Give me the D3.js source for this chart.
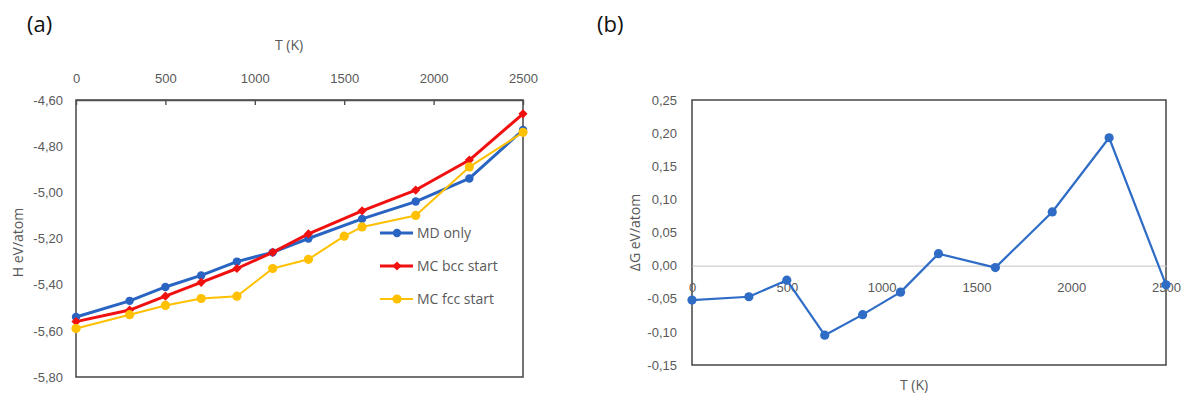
<!DOCTYPE html>
<html>
<head>
<meta charset="utf-8">
<script src="https://cdn.jsdelivr.net/npm/d3@7"></script>
<style>
  html, body { margin: 0; padding: 0; background: #fff; }
  svg { display: block; font-family: "Open Sans", "Liberation Sans", sans-serif; }
</style>
</head>
<body>
<svg id="fig" width="1182" height="395"></svg>
<script>
// Temperatures (K)
const temps = [0, 300, 500, 700, 900, 1100, 1300, 1600, 1900, 2200, 2500];
const tempsFcc = [0, 300, 500, 700, 900, 1100, 1300, 1500, 1600, 1900, 2200, 2500];

// Enthalpy H (eV/atom)
const hMdOnly = [-5.54, -5.47, -5.41, -5.36, -5.30, -5.26, -5.20, -5.115, -5.04, -4.94, -4.73];
const hMcBcc  = [-5.56, -5.51, -5.45, -5.39, -5.33, -5.26, -5.18, -5.08, -4.99, -4.86, -4.66];
const hMcFcc  = [-5.59, -5.53, -5.49, -5.46, -5.45, -5.33, -5.29, -5.19, -5.15, -5.10, -4.89, -4.74];

// Free energy difference ΔG (eV/atom)
const deltaG = [-0.052, -0.047, -0.022, -0.105, -0.074, -0.040, 0.018, -0.003, 0.081, 0.193, -0.029];

const xTicks = [0, 500, 1000, 1500, 2000, 2500];
const hTicks = [-4.6, -4.8, -5.0, -5.2, -5.4, -5.6, -5.8];
const gTicks = [0.25, 0.20, 0.15, 0.10, 0.05, 0.00, -0.05, -0.10, -0.15];

const seriesA = [
  { name: "MD only",      x: temps,    y: hMdOnly, color: "#2a64c2", width: 3, marker: "circle",  r: 4.2 },
  { name: "MC bcc start", x: temps,    y: hMcBcc,  color: "#f01010", width: 3, marker: "diamond", r: 4.6 },
  { name: "MC fcc start", x: tempsFcc, y: hMcFcc,  color: "#ffc000", width: 2, marker: "circle",  r: 4.6 }
];

const comma = d => d.toFixed(2).replace(".", ",");
const grey = "#595959";
const frame = "#505050";

const svg = d3.select("#fig");

// ---------- Panel (a) ----------
const xa = d3.scaleLinear().domain([0, 2500]).range([76, 523]);
const ya = d3.scaleLinear().domain([-5.8, -4.6]).range([377, 100]);

const ga = svg.append("g");

ga.append("text").attr("x", 27).attr("y", 32).attr("font-size", 22).attr("fill", "#111").text("(a)");

ga.append("rect")
  .attr("x", xa(0)).attr("y", ya(-4.6))
  .attr("width", xa(2500) - xa(0)).attr("height", ya(-5.8) - ya(-4.6))
  .attr("fill", "none").attr("stroke", frame).attr("stroke-width", 1.6);

const axTop = ga.append("g").attr("transform", `translate(0,${ya(-4.6)})`)
  .call(d3.axisTop(xa).tickValues(xTicks).tickSizeInner(-5).tickSizeOuter(0).tickPadding(17).tickFormat(d3.format("d")));
axTop.select(".domain").attr("stroke", frame).attr("stroke-width", 1.6);
axTop.selectAll(".tick line").attr("stroke", frame).attr("stroke-width", 1.4);
axTop.selectAll("text").attr("fill", grey).attr("font-size", 13);

const axLeftA = ga.append("g").attr("transform", `translate(${xa(0)},0)`)
  .call(d3.axisLeft(ya).tickValues(hTicks).tickSize(0).tickPadding(13).tickFormat(comma));
axLeftA.select(".domain").remove();
axLeftA.selectAll("text").attr("fill", grey).attr("font-size", 13);

ga.append("text").attr("x", 289).attr("y", 50).attr("text-anchor", "middle")
  .attr("font-size", 14).attr("fill", grey).text("T (K)");
ga.append("text").attr("transform", `translate(23,${(100 + 377) / 2 + 4}) rotate(-90)`)
  .attr("text-anchor", "middle").attr("font-size", 14).attr("fill", grey).text("H eV/atom");

// Diamond marker: a square turned by 45 degrees
const diamondPath = r => `M0,${-r}L${r},0L0,${r}L${-r},0Z`;

function drawMarker(sel, s, cx, cy) {
  if (s.marker === "circle") {
    sel.append("circle").attr("cx", cx).attr("cy", cy).attr("r", s.r).attr("fill", s.color);
  } else {
    sel.append("path").attr("d", diamondPath(s.r))
      .attr("transform", `translate(${cx},${cy})`).attr("fill", s.color);
  }
}

const lineA = d3.line();
seriesA.forEach(s => {
  const pts = s.x.map((t, i) => [xa(t), ya(s.y[i])]);
  const g = ga.append("g");
  g.append("path").attr("d", lineA(pts)).attr("fill", "none")
    .attr("stroke", s.color).attr("stroke-width", s.width).attr("stroke-linejoin", "round");
  pts.forEach(p => drawMarker(g, s, p[0], p[1]));
});

// legend
const leg = ga.append("g");
seriesA.forEach((s, i) => {
  const ly = 233 + i * 33;
  const row = leg.append("g");
  row.append("line").attr("x1", 380).attr("x2", 413).attr("y1", ly).attr("y2", ly)
    .attr("stroke", s.color).attr("stroke-width", s.width);
  drawMarker(row, s, 397, ly);
  row.append("text").attr("x", 417).attr("y", ly + 5).attr("font-size", 14)
    .attr("fill", grey).text(s.name);
});

// ---------- Panel (b) ----------
const xb = d3.scaleLinear().domain([0, 2500]).range([692, 1166]);
const yb = d3.scaleLinear().domain([-0.15, 0.25]).range([365, 100]);

const gb = svg.append("g");

gb.append("text").attr("x", 597).attr("y", 32).attr("font-size", 22).attr("fill", "#111").text("(b)");

gb.append("rect")
  .attr("x", xb(0)).attr("y", yb(0.25))
  .attr("width", xb(2500) - xb(0)).attr("height", yb(-0.15) - yb(0.25))
  .attr("fill", "none").attr("stroke", frame).attr("stroke-width", 1.6);

const axLeftB = gb.append("g").attr("transform", `translate(${xb(0)},0)`)
  .call(d3.axisLeft(yb).tickValues(gTicks).tickSize(0).tickPadding(15).tickFormat(comma));
axLeftB.select(".domain").remove();
axLeftB.selectAll("text").attr("fill", grey).attr("font-size", 13);

const axZero = gb.append("g").attr("transform", `translate(0,${yb(0)})`)
  .call(d3.axisBottom(xb).tickValues(xTicks).tickSize(0).tickPadding(17).tickFormat(d3.format("d")));
axZero.select(".domain").attr("stroke", "#cfcfcf").attr("stroke-width", 1.2);
axZero.selectAll("text").attr("fill", grey).attr("font-size", 13);

gb.append("text").attr("x", 914).attr("y", 390).attr("text-anchor", "middle")
  .attr("font-size", 14).attr("fill", grey).text("T (K)");
gb.append("text").attr("transform", `translate(640,${(100 + 365) / 2}) rotate(-90)`)
  .attr("text-anchor", "middle").attr("font-size", 14).attr("fill", grey).text("ΔG eV/atom");

const ptsB = temps.map((t, i) => [xb(t), yb(deltaG[i])]);
gb.append("path").attr("d", d3.line()(ptsB)).attr("fill", "none")
  .attr("stroke", "#2e6cc6").attr("stroke-width", 2.2).attr("stroke-linejoin", "round");
gb.selectAll("circle.pt").data(ptsB).join("circle").attr("class", "pt")
  .attr("cx", d => d[0]).attr("cy", d => d[1]).attr("r", 4.6).attr("fill", "#2e6cc6");
</script>
</body>
</html>
